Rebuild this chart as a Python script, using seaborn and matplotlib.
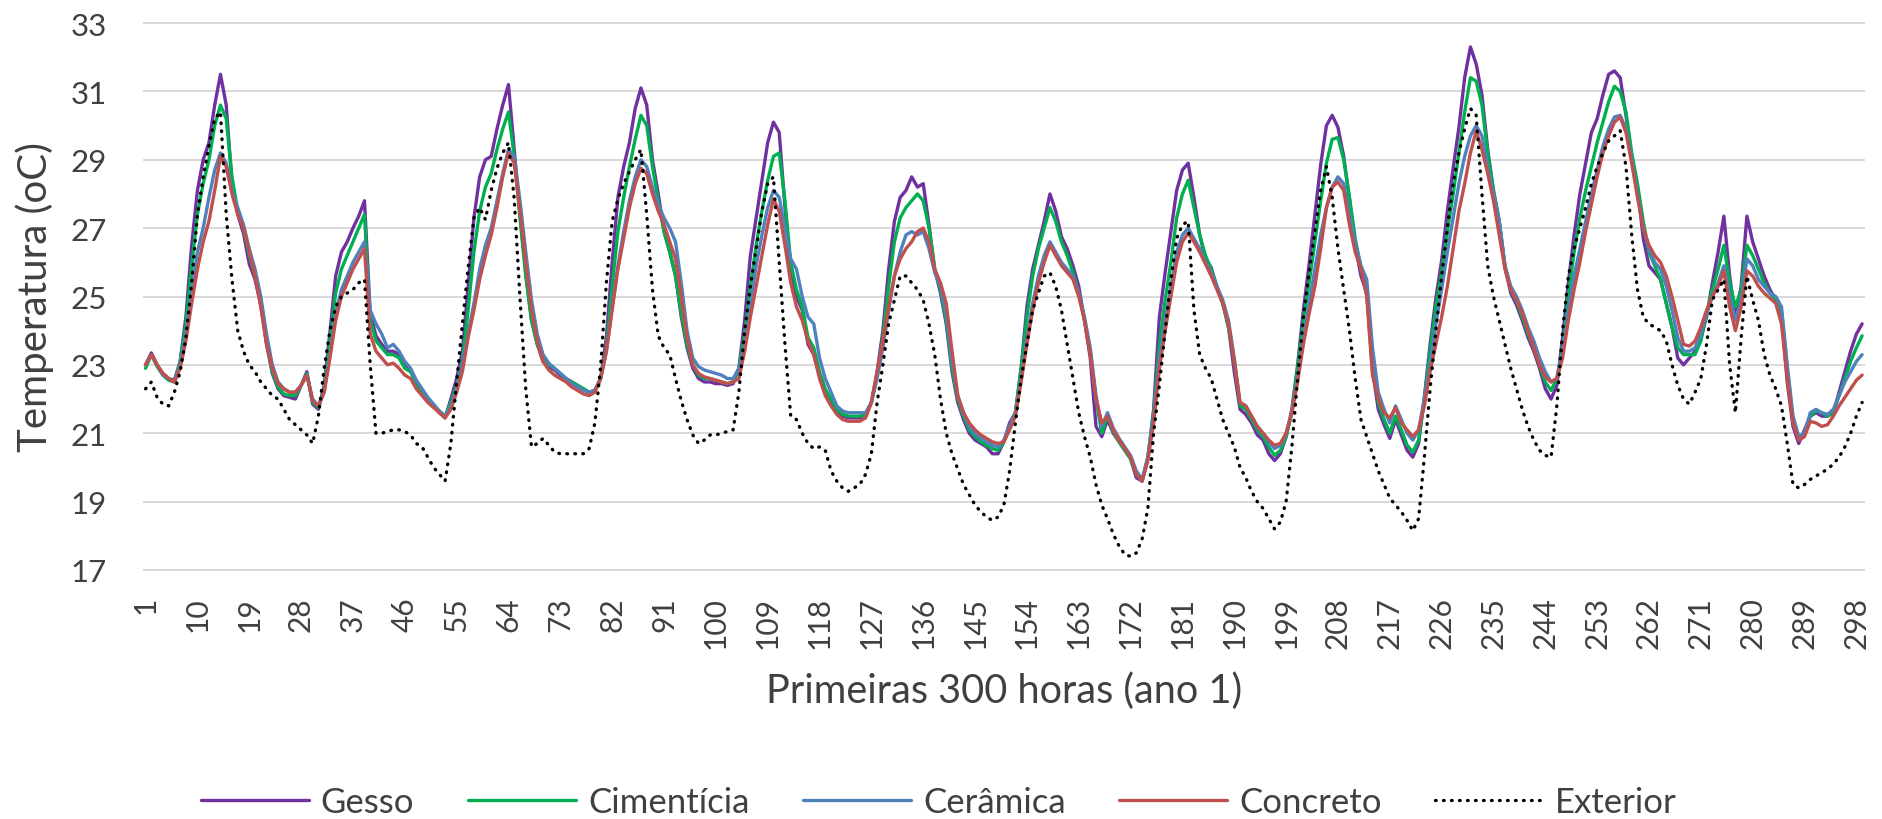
import numpy as np
import pandas as pd
import matplotlib
matplotlib.use("Agg")
import matplotlib.pyplot as plt
import seaborn as sns

# ---------------- data (hourly temperatures, hours 1..299) ----------------
gesso = [
    23.0, 23.35, 23.0, 22.75, 22.6, 22.55, 23.1, 24.4, 26.5, 28.1, 29.0, 29.5, 30.6, 31.5, 30.6, 28.3, 27.4, 26.85, 25.95, 25.5, 24.75, 23.6, 22.75, 22.3,
    22.1, 22.05, 22.0, 22.4, 22.8, 21.85, 21.7, 22.4, 23.95, 25.6, 26.3, 26.6, 27.0, 27.35, 27.8, 24.5, 23.85, 23.6, 23.4, 23.4, 23.3, 22.95, 22.85, 22.5,
    22.2, 21.95, 21.8, 21.6, 21.45, 22.0, 22.6, 23.4,
    25.3, 27.3, 28.5, 29.0, 29.1, 29.9, 30.6, 31.2, 29.3, 27.4, 25.7, 24.3, 23.6, 23.1, 22.95, 22.85, 22.7, 22.6, 22.5, 22.4, 22.3, 22.2, 22.25, 22.6,
    23.8, 26.0, 27.9, 28.8, 29.5, 30.5, 31.1, 30.6, 29.0, 28.0, 26.9, 26.3, 25.6, 24.4, 23.5, 22.9, 22.6, 22.5, 22.5, 22.45, 22.45, 22.4, 22.45, 22.9,
    24.3, 26.2, 27.3, 28.4, 29.5, 30.1, 29.8, 27.6, 25.6, 25.0, 24.6, 23.6, 23.3, 22.7, 22.2, 21.9, 21.6, 21.5, 21.45, 21.45, 21.45, 21.5, 21.9, 22.8,
    24.0, 25.8, 27.2, 27.9, 28.1, 28.5, 28.2, 28.3, 27.1, 25.8, 25.1, 24.2, 22.8, 21.9, 21.4, 21.0, 20.8, 20.7, 20.6, 20.4, 20.4, 20.75, 21.3, 21.6,
    22.9, 24.7, 25.8, 26.5, 27.2, 28.0, 27.5, 26.75, 26.4, 25.9, 25.3, 24.3, 23.2, 21.2, 20.9, 21.4, 21.0, 20.75, 20.5, 20.25, 19.7, 19.6, 20.25, 21.7,
    24.4, 25.7, 26.9, 28.1, 28.7, 28.9, 27.9, 26.8, 26.1, 25.85, 25.25, 24.8, 24.1, 22.8, 21.7, 21.55, 21.3, 20.95, 20.8, 20.4, 20.2, 20.4, 20.9, 21.7,
    23.0, 24.6, 25.95, 27.4, 28.85, 30.0, 30.3, 29.95, 29.1, 27.85, 26.5, 25.6, 25.1, 22.85, 21.7, 21.25, 20.85, 21.4, 20.95, 20.5, 20.3, 20.7, 22.05, 23.6,
    24.95, 26.05, 27.5, 28.75, 29.95, 31.4, 32.3, 31.8, 30.9, 29.3, 28.1, 27.2, 25.85, 25.1, 24.75, 24.3, 23.8, 23.4, 22.9, 22.3, 22.0, 22.4, 23.8, 25.4,
    26.8, 28.0, 28.9, 29.8, 30.2, 30.9, 31.5, 31.6, 31.4, 30.3, 29.1, 28.2, 26.7, 25.9, 25.7, 25.5, 24.8, 24.1, 23.2, 23.0, 23.2, 23.4, 23.8, 24.4,
    25.4, 26.3, 27.35, 25.6, 24.4, 25.3, 27.35, 26.6, 26.1, 25.6, 25.2, 24.9, 24.5, 22.5, 21.2, 20.7, 21.1, 21.5, 21.6, 21.5, 21.5, 21.6, 22.2, 22.8, 23.4, 23.9, 24.2,
]

cimenticia = [
    22.9, 23.3, 22.95, 22.7, 22.55, 22.5, 23.1, 24.2, 25.9, 27.4, 28.3, 29.0, 30.0, 30.6, 30.2, 28.5, 27.5, 27.0, 26.2, 25.6, 24.9, 23.7, 22.8, 22.35,
    22.15, 22.1, 22.1, 22.4, 22.75, 21.9, 21.75, 22.3, 23.7, 25.1, 25.8, 26.2, 26.6, 27.0, 27.4, 24.3, 23.7, 23.5, 23.3, 23.3, 23.2, 22.9, 22.8, 22.45,
    22.2, 21.95, 21.8, 21.65, 21.5, 21.9, 22.4, 23.1,
    24.6, 26.3, 27.5, 28.2, 28.6, 29.3, 29.9, 30.4, 29.1, 27.3, 25.6, 24.3, 23.6, 23.2, 23.0, 22.9, 22.75, 22.6, 22.5, 22.4, 22.3, 22.2, 22.25, 22.6,
    23.5, 25.3, 26.9, 27.9, 28.8, 29.6, 30.3, 30.0, 28.8, 27.8, 26.9, 26.3, 25.6, 24.5, 23.6, 23.0, 22.7, 22.6, 22.6, 22.55, 22.5, 22.45, 22.5, 22.9,
    23.9, 25.3, 26.5, 27.5, 28.4, 29.1, 29.2, 27.8, 26.0, 25.2, 24.7, 23.8, 23.5, 22.8, 22.3, 22.0, 21.7, 21.55, 21.5, 21.5, 21.5, 21.55, 21.9, 22.7,
    23.8, 25.3, 26.6, 27.3, 27.6, 27.8, 28.0, 27.8, 27.0, 25.8, 25.2, 24.3, 22.9, 22.0, 21.5, 21.1, 20.9, 20.75, 20.65, 20.55, 20.5, 20.75, 21.2, 21.6,
    22.9, 24.4, 25.6, 26.4, 27.0, 27.6, 27.2, 26.6, 26.2, 25.7, 25.1, 24.3, 23.4, 22.0, 21.0, 21.5, 21.05, 20.75, 20.5, 20.25, 19.8, 19.6, 20.3, 21.6,
    23.6, 24.9, 26.0, 27.3, 28.0, 28.4, 27.6, 26.8, 26.2, 25.8, 25.3, 24.8, 24.1, 23.1, 21.8, 21.7, 21.4, 21.1, 20.9, 20.6, 20.35, 20.5, 20.9, 21.6,
    22.9, 24.3, 25.4, 26.6, 27.8, 28.9, 29.6, 29.65, 29.0, 27.9, 26.7, 25.8, 25.3, 23.1, 21.9, 21.4, 21.0, 21.5, 21.1, 20.65, 20.45, 20.8, 22.0, 23.4,
    24.7, 25.7, 26.9, 28.0, 29.2, 30.4, 31.4, 31.3, 30.6, 29.2, 28.1, 27.2, 25.9, 25.2, 24.85, 24.4, 23.9, 23.5, 23.0, 22.5, 22.25, 22.6, 23.5, 25.0,
    26.3, 27.3, 28.1, 28.8, 29.5, 30.1, 30.7, 31.15, 31.0, 30.4, 29.2, 28.3, 27.2, 26.3, 25.9, 25.5, 24.8, 24.1, 23.5, 23.3, 23.3, 23.3, 23.7, 24.5,
    25.2, 25.8, 26.5, 25.4, 24.7, 25.2, 26.5, 26.2, 25.8, 25.4, 25.1, 24.9, 24.6, 22.9, 21.4, 20.9, 21.0, 21.5, 21.65, 21.6, 21.5, 21.6, 22.1, 22.6, 23.1, 23.5, 23.85,
]

ceramica = [
    23.0, 23.3, 23.0, 22.7, 22.6, 22.5, 23.0, 23.9, 25.2, 26.3, 27.0, 27.9, 28.7, 29.2, 28.9, 28.1, 27.6, 27.1, 26.4, 25.8, 25.0, 23.9, 23.0, 22.5,
    22.3, 22.2, 22.2, 22.4, 22.7, 22.0, 21.8, 22.2, 23.3, 24.5, 25.2, 25.6, 26.0, 26.3, 26.6, 24.6, 24.2, 23.9, 23.5, 23.6, 23.4, 23.1, 22.9, 22.55,
    22.3, 22.05, 21.85, 21.65, 21.5, 21.8, 22.3, 23.0,
    23.9, 24.8, 25.8, 26.5, 27.0, 27.8, 28.6, 29.3, 29.1, 27.8, 26.3, 24.9, 23.9, 23.3, 23.05, 22.9, 22.75, 22.6, 22.45, 22.35, 22.25, 22.2, 22.25, 22.6,
    23.4, 24.7, 25.9, 26.9, 27.8, 28.5, 29.0, 28.8, 28.2, 27.7, 27.3, 27.0, 26.6, 25.4, 24.0, 23.2, 22.95, 22.85, 22.8, 22.75, 22.7, 22.6, 22.6, 22.9,
    23.6, 24.8, 25.9, 26.8, 27.6, 28.1, 27.9, 27.0, 26.1, 25.8, 25.0, 24.4, 24.2, 23.2, 22.6, 22.2, 21.8, 21.65, 21.6, 21.6, 21.6, 21.6, 21.9, 22.6,
    23.5, 24.6, 25.6, 26.3, 26.8, 26.9, 26.8, 26.9, 26.4, 25.7, 25.3, 24.5, 23.1, 22.1, 21.6, 21.2, 21.0, 20.85, 20.75, 20.65, 20.6, 20.8, 21.2, 21.6,
    22.6, 23.8, 24.8, 25.6, 26.2, 26.6, 26.3, 26.0, 25.8, 25.6, 25.1, 24.4, 23.5, 22.1, 21.2, 21.6, 21.15, 20.85, 20.6, 20.35, 19.9, 19.65, 20.3, 21.5,
    23.2, 24.3, 25.3, 26.3, 26.8, 27.0, 26.7, 26.4, 26.0, 25.7, 25.3, 24.9, 24.3, 23.2, 21.9, 21.8, 21.5, 21.2, 21.0, 20.75, 20.55, 20.65, 21.0, 21.6,
    22.6, 23.8, 24.8, 25.8, 26.8, 27.6, 28.2, 28.5, 28.3, 27.4, 26.6, 25.9, 25.5, 23.5, 22.2, 21.7, 21.3, 21.8, 21.4, 21.0, 20.8, 21.1, 22.0, 23.0,
    24.2, 25.2, 26.3, 27.3, 28.3, 29.1, 29.7, 30.0, 29.7, 28.8, 28.0, 27.2, 25.9, 25.3, 25.0, 24.6, 24.1, 23.7, 23.2, 22.8, 22.5, 22.6, 23.4, 24.6,
    25.6, 26.4, 27.2, 28.0, 28.7, 29.4, 29.9, 30.25, 30.3, 29.9, 29.0, 28.0, 27.0, 26.4, 26.0, 25.8, 25.3, 24.6, 23.8, 23.4, 23.4, 23.5, 23.9, 24.5,
    25.0, 25.4, 25.9, 25.0, 24.3, 24.9, 26.1, 25.9, 25.5, 25.3, 25.1, 25.0, 24.7, 23.0, 21.5, 20.9, 21.0, 21.6, 21.7, 21.6, 21.55, 21.7, 22.1, 22.5, 22.8, 23.1, 23.3,
]

concreto = [
    23.0, 23.3, 23.0, 22.75, 22.6, 22.5, 22.9, 23.7, 24.8, 25.8, 26.6, 27.2, 28.1, 29.1, 28.8, 28.0, 27.4, 27.0, 26.3, 25.6, 24.7, 23.6, 22.9, 22.45,
    22.3, 22.2, 22.2, 22.4, 22.7, 21.95, 21.8, 22.2, 23.2, 24.3, 25.0, 25.4, 25.8, 26.1, 26.4, 23.9, 23.4, 23.2, 23.0, 23.05, 22.9, 22.7, 22.6, 22.3,
    22.1, 21.9, 21.75, 21.6, 21.45, 21.7, 22.2, 22.8,
    23.8, 24.6, 25.5, 26.2, 26.8, 27.6, 28.5, 29.2, 28.9, 27.5, 26.0, 24.6, 23.7, 23.1, 22.85, 22.7, 22.6, 22.5, 22.35, 22.25, 22.15, 22.1, 22.2, 22.6,
    23.4, 24.6, 25.8, 26.7, 27.6, 28.3, 28.75, 28.6, 28.0, 27.5, 27.1, 26.6, 26.1, 25.0, 23.8, 23.0, 22.75, 22.65, 22.6, 22.55, 22.5, 22.45, 22.5, 22.6,
    23.4, 24.4, 25.3, 26.2, 27.1, 27.85, 27.5, 26.5, 25.4, 24.7, 24.3, 23.7, 23.3, 22.6, 22.1, 21.8, 21.55, 21.4, 21.35, 21.35, 21.35, 21.45, 21.9, 22.8,
    23.7, 24.7, 25.6, 26.1, 26.4, 26.6, 26.9, 27.0, 26.6, 25.8, 25.4, 24.8, 23.4, 22.1, 21.6, 21.3, 21.1, 20.95, 20.85, 20.75, 20.7, 20.75, 21.1, 21.5,
    22.5, 23.6, 24.6, 25.4, 26.0, 26.5, 26.2, 25.9, 25.7, 25.5, 25.0, 24.3, 23.3, 22.0, 21.3, 21.5, 21.1, 20.8, 20.55, 20.3, 19.8, 19.6, 20.2, 21.3,
    22.9, 24.0, 25.0, 26.0, 26.6, 26.85, 26.6, 26.3, 25.95, 25.6, 25.2, 24.8, 24.2, 23.1, 21.9, 21.8, 21.5, 21.2, 21.0, 20.8, 20.65, 20.7, 21.0, 21.6,
    22.5, 23.6, 24.5, 25.3, 26.4, 27.6, 28.2, 28.35, 28.1, 27.1, 26.3, 25.8, 25.0, 22.7, 22.0, 21.6, 21.45, 21.75, 21.3, 21.1, 20.9, 21.1, 21.8, 22.8,
    23.6, 24.4, 25.3, 26.4, 27.5, 28.3, 29.2, 29.85, 29.3, 28.6, 27.8, 26.8, 25.8, 25.2, 24.9, 24.5, 24.0, 23.5, 23.0, 22.65, 22.5, 22.6, 23.2, 24.3,
    25.2, 26.0, 26.9, 27.7, 28.5, 29.2, 29.7, 30.1, 30.25, 29.8, 28.9, 27.9, 27.0, 26.5, 26.2, 26.0, 25.6, 25.0, 24.3, 23.6, 23.55, 23.7, 24.1, 24.6,
    25.0, 25.3, 25.75, 24.7, 24.0, 24.7, 25.75, 25.6, 25.3, 25.1, 24.95, 24.8, 24.2, 22.6, 21.3, 20.8, 20.9, 21.35, 21.3, 21.2, 21.25, 21.5, 21.8, 22.05, 22.3, 22.55, 22.7,
]

exterior = [
    22.3, 22.5, 22.05, 21.85, 21.8, 22.2, 22.8, 23.8, 25.4, 27.4, 28.5, 29.4, 30.2, 30.4, 27.4, 25.5, 24.0, 23.4, 23.0, 22.8, 22.5, 22.3, 22.1, 22.0,
    21.7, 21.4, 21.25, 21.1, 20.95, 20.7, 21.5, 22.9, 24.0, 24.7, 25.0, 25.1, 25.2, 25.4, 25.5, 23.0, 21.0, 21.0, 21.05, 21.1, 21.1, 21.05, 20.95, 20.7,
    20.6, 20.3, 20.0, 19.8, 19.6, 20.7, 22.5, 24.2,
    25.85, 27.3, 27.6, 27.25, 28.1, 28.75, 29.2, 29.5, 27.85, 24.95, 22.3, 20.6, 20.7, 20.85, 20.65, 20.45, 20.4, 20.4, 20.4, 20.4, 20.4, 20.55, 21.3, 22.95,
    25.4, 27.2, 27.85, 28.3, 28.65, 29.0, 29.3, 27.4, 25.2, 23.85, 23.5, 23.3, 22.6, 21.95, 21.4, 20.95, 20.7, 20.8, 20.95, 20.95, 21.0, 21.05, 21.1, 22.2,
    24.0, 25.3, 26.4, 27.5, 28.3, 28.5, 26.0, 23.6, 21.5, 21.4, 21.0, 20.7, 20.55, 20.6, 20.5, 19.9, 19.6, 19.4, 19.3, 19.4, 19.5, 19.8, 20.4, 21.9,
    23.0, 24.2, 24.9, 25.6, 25.6, 25.4, 25.2, 24.9, 24.2, 23.3, 22.0, 21.0, 20.4, 19.95, 19.5, 19.2, 18.9, 18.7, 18.55, 18.45, 18.55, 18.9, 19.9, 21.3,
    22.6, 23.6, 24.6, 25.1, 25.6, 25.7, 25.3, 24.6, 23.6, 22.6, 21.6, 20.9, 20.3, 19.5, 18.9, 18.5, 18.05, 17.7, 17.45, 17.4, 17.5, 17.9, 18.8, 21.0,
    22.4, 24.0, 25.5, 26.7, 27.1, 27.2, 24.6, 23.3, 22.9, 22.6, 22.0, 21.4, 21.0, 20.6, 20.0, 19.7, 19.3, 19.0, 18.8, 18.5, 18.2, 18.4, 19.0, 20.6,
    22.6, 24.4, 25.7, 26.9, 28.1, 28.8, 27.9, 26.4, 25.2, 24.0, 22.6, 21.4, 20.9, 20.4, 19.9, 19.5, 19.1, 18.9, 18.7, 18.45, 18.15, 18.5, 20.3, 22.3,
    24.0, 25.6, 27.0, 28.3, 29.2, 29.9, 30.5, 30.3, 28.0, 25.9, 25.0, 24.3, 23.6, 22.9, 22.3, 21.7, 21.2, 20.8, 20.5, 20.35, 20.3, 21.8, 24.0, 25.6,
    26.4, 27.0, 27.6, 28.3, 28.8, 29.2, 29.55, 29.7, 29.85, 28.8, 26.8, 25.2, 24.4, 24.2, 24.1, 24.0, 23.7, 23.0, 22.4, 22.0, 21.85, 22.2, 22.6, 23.6,
    24.9, 25.2, 25.5, 23.0, 21.6, 23.8, 25.6, 24.9, 24.3, 23.3, 22.7, 22.3, 21.8, 20.7, 19.5, 19.4, 19.5, 19.65, 19.75, 19.85, 19.95, 20.1, 20.3, 20.6, 21.0, 21.5, 21.9,
]

series_names = ["Gesso", "Cimentícia", "Cerâmica", "Concreto", "Exterior"]
y_ticks = [17, 19, 21, 23, 25, 27, 29, 31, 33]
x_tick_hours = list(range(1, 299, 9))
x_title = "Primeiras 300 horas (ano 1)"
y_title = "Temperatura (oC)"

all_series = [gesso, cimenticia, ceramica, concreto, exterior]
for name, s in zip(series_names, all_series):
    assert len(s) == 299, (name, len(s))

# ---------------- style ----------------
sns.set_theme(style="white")
plt.rcParams["font.family"] = ["Lato", "DejaVu Sans"]
text_color = "#404040"

W, H = 1883, 820
fig = plt.figure(figsize=(W / 100, H / 100), dpi=100)
left_px, right_px, top_px, bottom_px = 142.7, 1865.0, 23.0, 572.0
ax = fig.add_axes([left_px / W, 1 - bottom_px / H,
                   (right_px - left_px) / W, (bottom_px - top_px) / H])

hours = np.arange(1, 300)
colors = ["#7030A0", "#00B050", "#4F81BD", "#C0504D"]
for name, vals, col in zip(series_names[:4], all_series[:4], colors):
    sns.lineplot(x=hours, y=vals, ax=ax, color=col, linewidth=2.4,
                 label=name, estimator=None, sort=False)
sns.lineplot(x=hours, y=exterior, ax=ax, color="black", linewidth=2.4,
             linestyle=(0, (0.2, 2.2)), dash_capstyle="round",
             label="Exterior", estimator=None, sort=False)

ax.set_xlim(0.5, 299.5)
ax.set_ylim(16.97, 33.03)
ax.set_yticks(y_ticks)
ax.set_yticklabels([str(v) for v in y_ticks])
ax.set_xticks(x_tick_hours)
ax.set_xticklabels([str(v) for v in x_tick_hours], rotation=90)

ax.yaxis.grid(True, color="#D9D9D9", linewidth=1.4)
ax.xaxis.grid(False)
ax.set_axisbelow(True)
for sp in ax.spines.values():
    sp.set_visible(False)

ax.tick_params(axis="y", length=0, pad=25.7, labelsize=22.5, labelcolor=text_color)
ax.tick_params(axis="x", length=0, pad=18, labelsize=21.5, labelcolor=text_color)

ax.set_xlabel(x_title, fontsize=28.5, color=text_color)
ax.set_ylabel(y_title, fontsize=29, color=text_color)
ax.xaxis.set_label_coords(0.5, (bottom_px - 672) / (bottom_px - top_px))
ax.yaxis.set_label_coords((35 - left_px) / (right_px - left_px), 0.5)
ax.yaxis.label.set_verticalalignment("center")

handles, labels = ax.get_legend_handles_labels()
if ax.get_legend() is not None:
    ax.get_legend().remove()
fig.legend(handles, labels, loc="center", bbox_to_anchor=(939 / W, 1 - 803 / H),
           ncol=5, frameon=False, fontsize=25, handlelength=3.1,
           handletextpad=0.35, columnspacing=1.55, labelcolor=text_color)

fig.savefig("out.png", dpi=100)
